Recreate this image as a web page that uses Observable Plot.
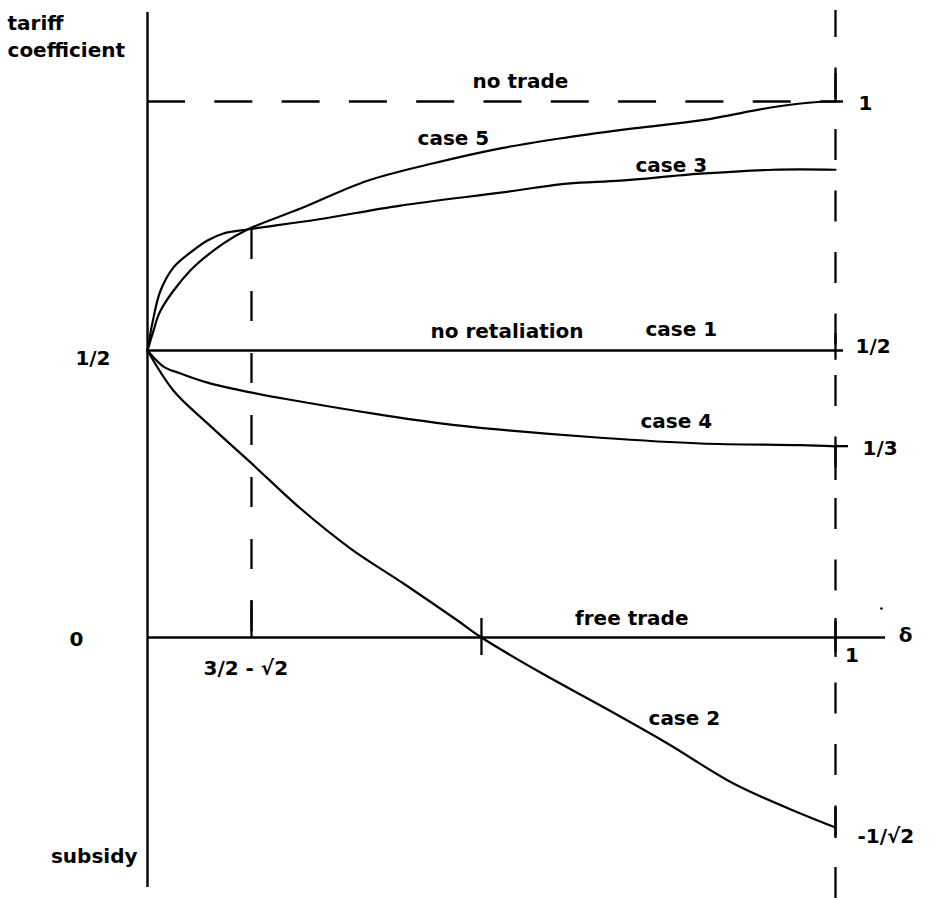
<!DOCTYPE html>
<html>
<head>
<meta charset="utf-8">
<script src="https://cdn.jsdelivr.net/npm/d3@7"></script>
<script src="https://cdn.jsdelivr.net/npm/@observablehq/plot@0.6"></script>
<style>body{margin:0;background:#fff}</style>
</head>
<body>
<div id="chart"></div>
<script>
// Schematic (not-to-scale) axes: breakpoints in data units
const xBreaks = [-0.1213, 0, 0.0858, 1, 1.1503];   // 0, 3/2-√2, 1
const yBreaks = [-0.971, -0.7071, 0, 0.5, 1, 1.183]; // -1/√2, 0, 1/2, 1

// Curves (δ, tariff coefficient)
const case5X = [0, 0.005, 0.0107, 0.0355, 0.0627, 0.0825, 0.1625, 0.2674, 0.3707, 0.4756, 0.5805, 0.6838, 0.7887, 0.9092, 0.9718, 1];
const case5Y = [0.5, 0.540, 0.580, 0.661, 0.715, 0.743, 0.785, 0.841, 0.876, 0.906, 0.928, 0.946, 0.962, 0.990, 0.999, 1];

const case3X = [0, 0.0041, 0.0107, 0.0215, 0.0355, 0.0495, 0.0627, 0.0825, 0.1891, 0.319, 0.4756, 0.5805, 0.6634, 0.7887, 0.9029, 1];
const case3Y = [0.5, 0.556, 0.620, 0.667, 0.697, 0.721, 0.735, 0.743, 0.763, 0.791, 0.817, 0.835, 0.841, 0.855, 0.863, 0.863];

const case4X = [0, 0.0132, 0.0272, 0.0495, 0.085, 0.1735, 0.2768, 0.3817, 0.4756, 0.6321, 0.7887, 0.9452, 1];
const case4Y = [0.5, 0.472, 0.460, 0.444, 0.427, 0.409, 0.390, 0.373, 0.362, 0.348, 0.338, 0.335, 0.333];

const case2X = [0, 0.0215, 0.0495, 0.085, 0.1625, 0.2408, 0.3237, 0.4083, 0.4458, 0.5382, 0.6321, 0.7370, 0.8403, 0.9452, 1];
const case2Y = [0.5, 0.430, 0.373, 0.305, 0.2247, 0.155, 0.0941, 0.0296, 0, -0.1303, -0.2531, -0.3945, -0.5434, -0.6551, -0.7071];

// Reference levels
const noTrade = 1, noRetaliation = 0.5, freeTrade = 0, third = 1 / 3;
const deltaStar = 0.0858; // 3/2 - √2

// Short solid tick marks (x, y1, y2)
const tickX  = [0.4458, 1, 1, 1, 1, 1, 0.0858];
const tickY1 = [0.0331, 0.033, 0.534, 0.333, 1.0, -0.633, 0];
const tickY2 = [-0.067, -0.074, 0.483, 0.2735, 1.056, -0.748, 0.0645];

// Labels
const startText = ["tariff", "coefficient", "no trade", "case 5", "case 3", "no retaliation", "case 1", "case 4", "case 2", "3/2 - √2", "1", "1/2", "1/3", "-1/√2"];
const startX = [-0.1155, -0.1155, 0.4318, 0.3457, 0.6869, 0.3660, 0.7026, 0.6947, 0.7073, 0.0462, 1.036, 1.0313, 1.0423, 1.0344];
const startY = [1.156, 1.102, 1.040, 0.925, 0.871, 0.5376, 0.5416, 0.3758, -0.3026, -0.1154, 0.995, 0.507, 0.3287, -0.7417];

const endText = ["1/2", "subsidy", "free trade"];
const endX = [-0.0305, -0.00825, 0.7699];
const endY = [0.4855, -0.815, 0.0326];

const midText = ["0", "1", "δ"];
const midX = [-0.0586, 1.0258, 1.1096];
const midY = [-0.0074, -0.067, 0.0035];

const dotX = [1.072], dotY = [0.0505];

const idx = a => d3.range(a.length);
const curveOpts = {curve: "catmull-rom", stroke: "black", strokeWidth: 2.2};
const font = {fontFamily: "DejaVu Sans", fontSize: 20, fontWeight: "bold", fill: "black"};

const chart = Plot.plot({
  width: 931,
  height: 898,
  margin: 0,
  x: {type: "linear", domain: xBreaks, range: [0, 147, 251, 835, 931], axis: null},
  y: {type: "linear", domain: yBreaks, range: [898, 827, 637, 350, 101, 10], axis: null},
  style: {background: "white", fontFamily: "DejaVu Sans", fontSize: "20px", overflow: "visible"},
  marks: [
    // axes
    Plot.ruleX([0], {y1: -0.930, y2: 1.179, stroke: "black", strokeWidth: 2.4}),
    Plot.ruleY([freeTrade], {x1: 0, x2: 1.0783, stroke: "black", strokeWidth: 2.3}),
    // no retaliation (case 1)
    Plot.ruleY([noRetaliation], {x1: 0, x2: 1.0125, stroke: "black", strokeWidth: 2.3}),
    // no trade dashed
    Plot.ruleY([noTrade], {x1: 0, x2: 1.0125, stroke: "black", strokeWidth: 2.3, strokeDasharray: "38,29.3"}),
    // vertical dashed lines
    Plot.ruleX([1], {y1: -0.971, y2: 1.183, stroke: "black", strokeWidth: 2.3, strokeDasharray: "31,30.5"}),
    Plot.ruleX([deltaStar], {y1: 0.743, y2: 0, stroke: "black", strokeWidth: 2.3, strokeDasharray: "30,32"}),
    // 1/3 extension
    Plot.ruleY([third], {x1: 1, x2: 1.0204, stroke: "black", strokeWidth: 2.3}),
    // ticks
    Plot.ruleX(idx(tickX), {x: tickX, y1: tickY1, y2: tickY2, stroke: "black", strokeWidth: 2.3}),
    // curves
    Plot.line(idx(case5X), {x: case5X, y: case5Y, ...curveOpts}),
    Plot.line(idx(case3X), {x: case3X, y: case3Y, ...curveOpts}),
    Plot.line(idx(case4X), {x: case4X, y: case4Y, ...curveOpts}),
    Plot.line(idx(case2X), {x: case2X, y: case2Y, ...curveOpts}),
    // labels
    Plot.text(startText, {x: startX, y: startY, text: d => d, textAnchor: "start", ...font}),
    Plot.text(endText, {x: endX, y: endY, text: d => d, textAnchor: "end", ...font}),
    Plot.text(midText, {x: midX, y: midY, text: d => d, textAnchor: "middle", ...font}),
    Plot.dot(idx(dotX), {x: dotX, y: dotY, r: 1.3, fill: "black", stroke: null})
  ]
});
document.getElementById("chart").append(chart);
</script>
</body>
</html>
